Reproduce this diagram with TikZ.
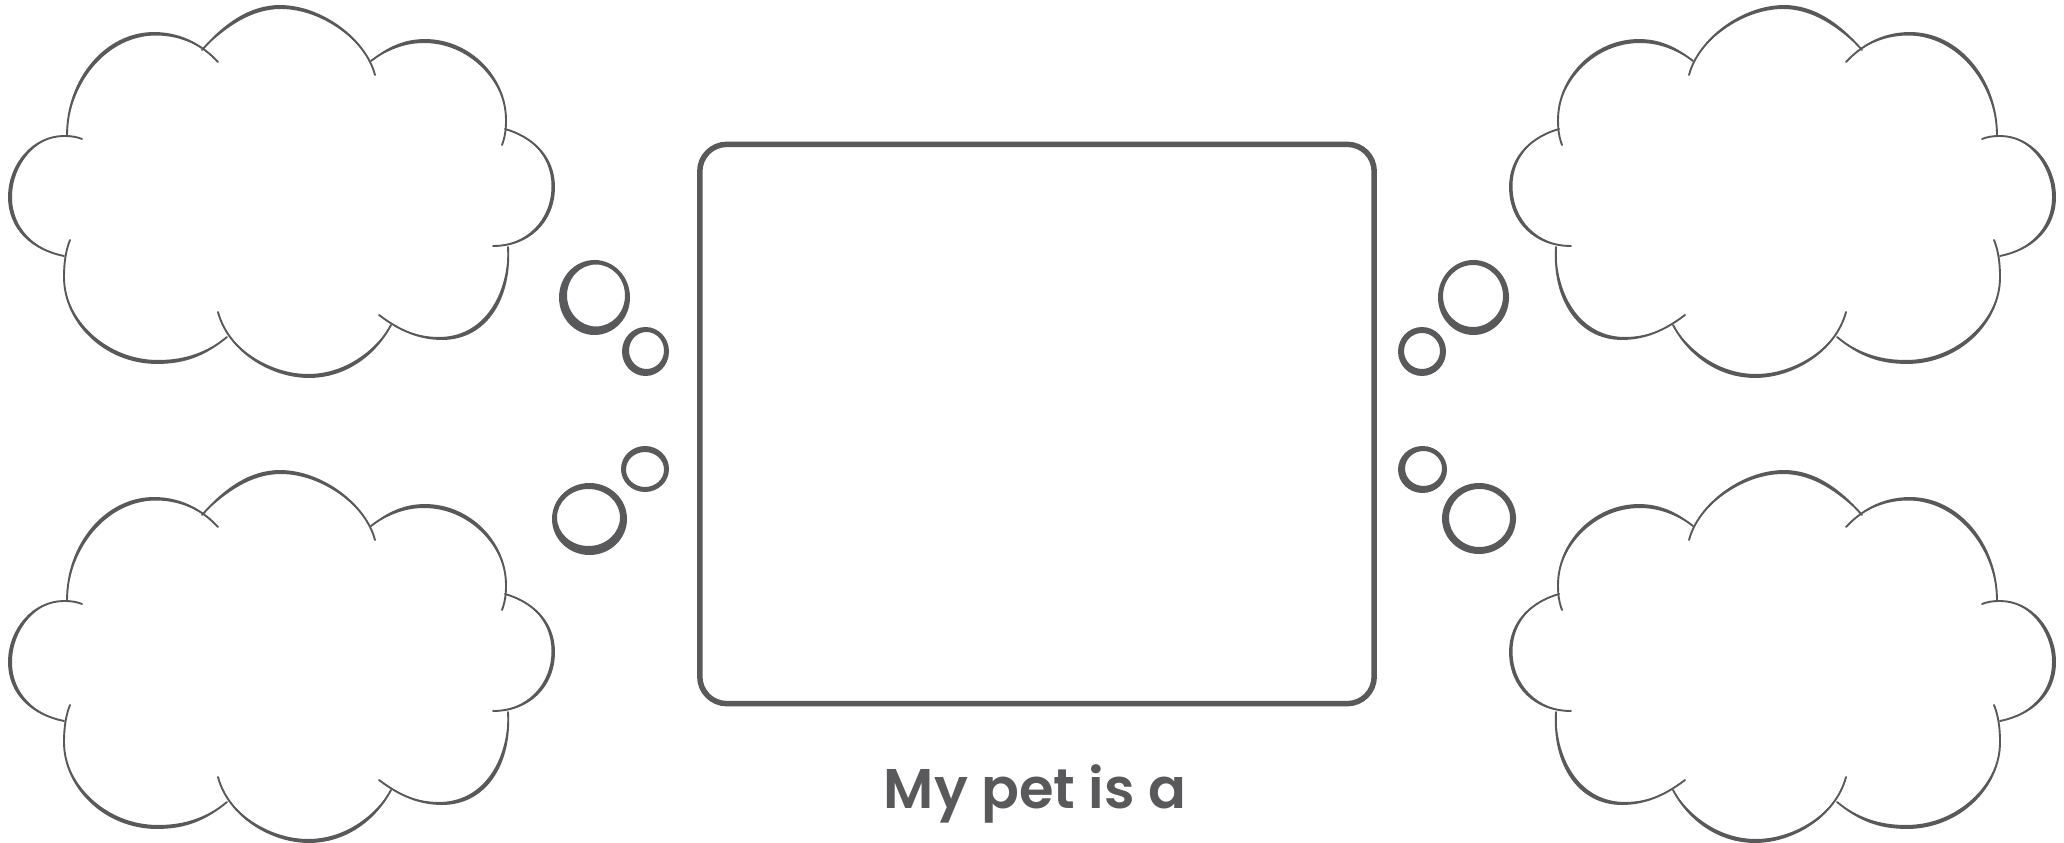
\documentclass[tikz,border=0pt]{standalone}
\usepackage{fontspec}
\IfFontExistsTF{Poppins SemiBold}
  {\newfontfamily\promptfont{Poppins SemiBold}\newcommand{\promptweight}{}}
  {\newfontfamily\promptfont{Poppins}\newcommand{\promptweight}{\bfseries}}
\definecolor{inkgray}{RGB}{89,89,91}
\tikzset{
  cloudline/.style={
    draw=inkgray,
    line width=0.019cm,
    line cap=round,
    line join=round
  },
  brush/.style={
    fill=inkgray
  },
  bubble/.style={
    fill=inkgray,
    even odd rule
  },
  petbox/.style={
    rectangle,
    draw=inkgray,
    line width=0.055cm,
    rounded corners=0.27cm,
    minimum width=6.74cm,
    minimum height=5.59cm,
    inner sep=0pt
  },
  prompt/.style={
    text=inkgray,
    inner sep=0pt,
    font=\promptfont\promptweight\fontsize{15.9}{19}\selectfont
  }
}
% one thought cloud, drawn lobe by lobe (pixel units, y downwards)
% each lobe: a tapered brush fill, then its thin outline with the little tails
\newcommand{\thoughtcloud}{%
  % left
  \fill[brush] (64,256) .. controls (34,250) and (9,230) .. (9,197)
    .. controls (9,164) and (34,136) .. (64,136)
    .. controls (37,136) and (12,164) .. (12,197) .. controls (12,230) and (37,250) .. (64,256) -- cycle;
  \draw[cloudline] (64,256) .. controls (34,250) and (9,230) .. (9,197)
    .. controls (9,164) and (34,136) .. (64,136) .. controls (72,136) and (77,137) .. (82,139);
  % upper left
  \fill[brush] (67,136) .. controls (67,79) and (106,33) .. (154,33)
    .. controls (184,33) and (205,48) .. (218,62)
    .. controls (207,50.5) and (186,35.5) .. (156,35.5) .. controls (108,35.5) and (69,81.5) .. (67,136) -- cycle;
  \draw[cloudline] (67,136) .. controls (67,79) and (106,33) .. (154,33)
    .. controls (184,33) and (205,48) .. (218,62);
  % top
  \fill[brush] (202,50) .. controls (225,24) and (250,6) .. (280,6)
    .. controls (322,6) and (366,40) .. (375,75)
    .. controls (367,43) and (323,9) .. (281,9) .. controls (251,9) and (226,27) .. (202,50) -- cycle;
  \draw[cloudline] (202,50) .. controls (225,24) and (250,6) .. (280,6)
    .. controls (322,6) and (366,40) .. (375,75);
  % upper right
  \fill[brush] (371,61) .. controls (388,48) and (404,40) .. (425,40)
    .. controls (470,40) and (506,78) .. (506,120)
    .. controls (505,81) and (469,43) .. (424,43) .. controls (403,43) and (387,51) .. (371,61) -- cycle;
  \draw[cloudline] (371,61) .. controls (388,48) and (404,40) .. (425,40)
    .. controls (470,40) and (506,78) .. (506,120) .. controls (506,130) and (505,137) .. (502,145);
  % right
  \fill[brush] (505,129) .. controls (530,136) and (554,155) .. (554,187)
    .. controls (554,222) and (528,246) .. (493,246)
    .. controls (525.5,245) and (551.5,221) .. (551.5,186) .. controls (551.5,154) and (527.5,135) .. (505,129) -- cycle;
  \draw[cloudline] (505,129) .. controls (530,136) and (554,155) .. (554,187)
    .. controls (554,222) and (528,246) .. (493,246);
  % lower right
  \fill[brush] (508,247) .. controls (511,300) and (485,339) .. (442,339)
    .. controls (415,339) and (395,327) .. (379,315)
    .. controls (392,325) and (412,337) .. (439,337) .. controls (482,337) and (508,298) .. (508,247) -- cycle;
  \draw[cloudline] (508,247) .. controls (511,300) and (485,339) .. (442,339)
    .. controls (415,339) and (395,327) .. (379,315);
  % bottom
  \fill[brush] (391,325) .. controls (375,355) and (345,377) .. (309,377)
    .. controls (270,377) and (228,350) .. (218,312)
    .. controls (227,347) and (269,374) .. (308,374) .. controls (344,374) and (374,352) .. (391,325) -- cycle;
  \draw[cloudline] (391,325) .. controls (375,355) and (345,377) .. (309,377)
    .. controls (270,377) and (228,350) .. (218,312);
  % lower left
  \fill[brush] (227,337) .. controls (205,355) and (185,363) .. (157,363)
    .. controls (105,363) and (64,322) .. (64,277)
    .. controls (65,319) and (106,360) .. (158,360) .. controls (186,360) and (206,352) .. (227,337) -- cycle;
  \draw[cloudline] (227,337) .. controls (205,355) and (185,363) .. (157,363)
    .. controls (105,363) and (64,322) .. (64,277) .. controls (64,262) and (66,250) .. (70,240);
}
\begin{document}
\begin{tikzpicture}[x=0.01cm, y=-0.01cm]
\useasboundingbox (0,0) rectangle (2064,843);

% clouds
\thoughtcloud
\begin{scope}[shift={(0,465)}]
  \thoughtcloud
\end{scope}
\begin{scope}[shift={(2064,0)}, xscale=-1]
  \thoughtcloud
\end{scope}
\begin{scope}[shift={(2064,465)}, xscale=-1]
  \thoughtcloud
\end{scope}

% bubbles, left side
\fill[bubble] (594.5,297.5) ellipse [x radius=35.5, y radius=37.5] (596,295.5) ellipse [x radius=29, y radius=31];
\fill[bubble] (645.5,351.5) ellipse [x radius=23.5, y radius=24.5] (646.5,350.5) ellipse [x radius=17.5, y radius=18.5];
\fill[bubble] (645,469) ellipse [x radius=24, y radius=23] (645,469.5) ellipse [x radius=19, y radius=17.5];
\fill[bubble] (589.5,519) ellipse [x radius=37.5, y radius=36] (588.5,517.5) ellipse [x radius=31.5, y radius=28.5];
% bubbles, right side
\fill[bubble] (1473.5,297.5) ellipse [x radius=35.5, y radius=37.5] (1473,296) ellipse [x radius=30, y radius=31];
\fill[bubble] (1422,351.5) ellipse [x radius=24, y radius=24.5] (1422,351) ellipse [x radius=18, y radius=18];
\fill[bubble] (1422.5,469.5) ellipse [x radius=24.5, y radius=23.5] (1423.5,468.5) ellipse [x radius=18.5, y radius=17.5];
\fill[bubble] (1479,518.5) ellipse [x radius=37, y radius=35.5] (1479.5,518) ellipse [x radius=30.5, y radius=29];

% picture frame and prompt
\node[petbox] (frame) at (1037,424) {};
\node[prompt, anchor=base] (label) at (1035,808) {My pet is a};
\end{tikzpicture}
\end{document}
